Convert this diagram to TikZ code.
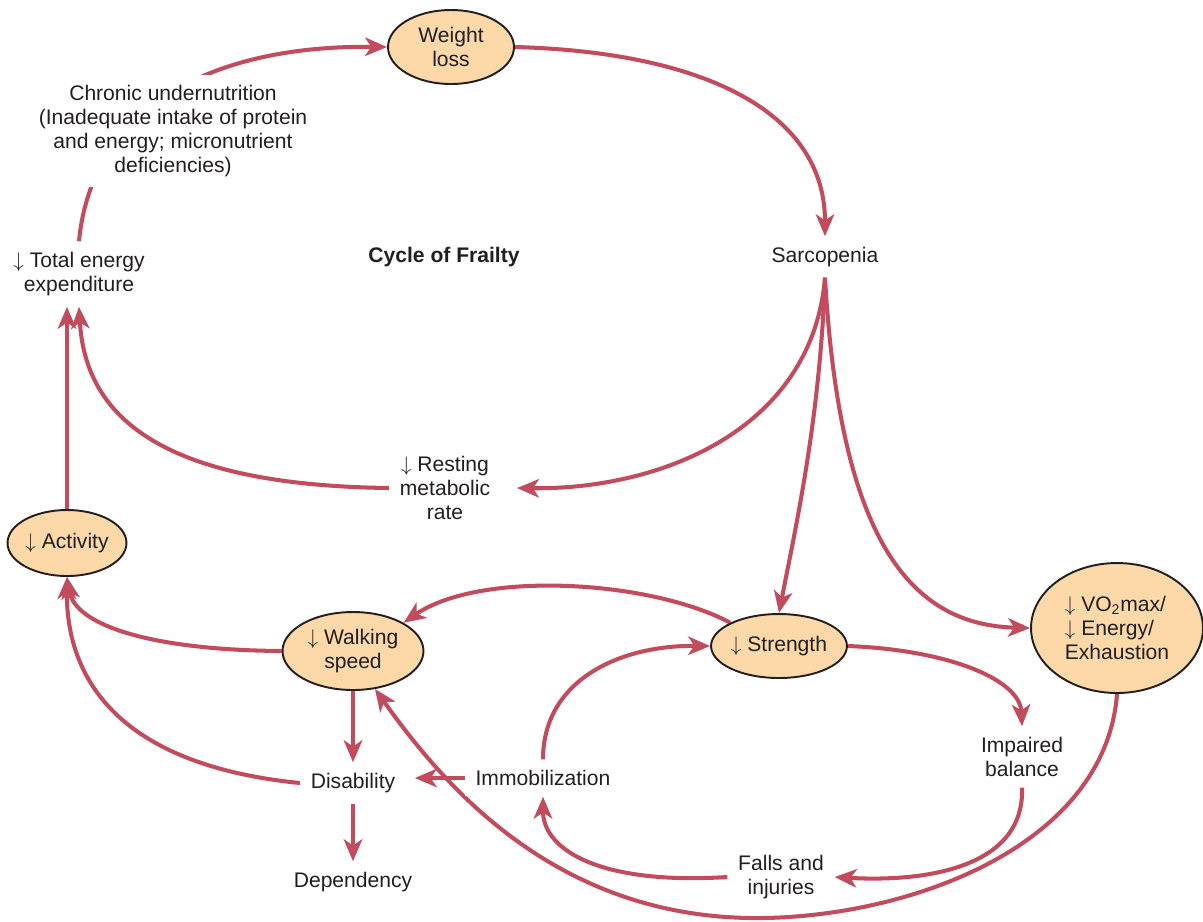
\documentclass[tikz,border=0pt]{standalone}
\usepackage{fontspec}
\setmainfont{Liberation Sans}
\usepackage{tikz}
\usetikzlibrary{arrows.meta,calc,positioning,shapes.geometric,backgrounds}
\definecolor{frailink}{HTML}{231F20}
\definecolor{frailred}{HTML}{C24B5D}
\definecolor{frailfill}{HTML}{FDD9A9}
\begin{document}
\begin{tikzpicture}[x=0.02cm,y=-0.02cm,>={Stealth[length=12.5pt,width=10.5pt,inset=3.5pt]},
  font=\fontsize{12}{13.7}\selectfont,text=frailink,
  cyc/.style={ellipse,draw=frailink,line width=1.1pt,fill=frailfill,inner sep=0pt,align=center},
  lbl/.style={fill=white,inner sep=6pt,align=center},
  link/.style={->,draw=frailred,line width=2.3pt}]
\path[use as bounding box] (0,0) rectangle (1203,921);
% ellipses
\node[cyc,minimum width=2.52cm,minimum height=1.48cm] (wl) at (451,47) {Weight\\loss};
\node[cyc,minimum width=2.38cm,minimum height=1.32cm] (act) at (67,543) {$\downarrow$ Activity};
\node[cyc,minimum width=2.82cm,minimum height=1.56cm] (ws) at (353,651) {$\downarrow$ Walking\\speed};
\node[cyc,minimum width=2.54cm,minimum height=1.28cm] (str) at (779,646) {$\downarrow$ Strength};
\node[cyc,align=left,minimum width=3.44cm,minimum height=2.6cm] (vo) at (1117,628)
  {$\downarrow$ VO\textsubscript{2}max/\\$\downarrow$ Energy/\\Exhaustion};
% plain labels
\node[lbl] (cun) at (173,131) {Chronic undernutrition\\(Inadequate intake of protein\\and energy; micronutrient\\deficiencies)};
\node[lbl] (tee) at (79,274) {$\downarrow$ Total energy\\expenditure};
\node[lbl,font=\fontsize{12}{13.7}\selectfont\bfseries] (ttl) at (444,257) {Cycle of Frailty};
\node[lbl] (sarc) at (825,257) {Sarcopenia};
\node[lbl] (rmr) at (445,488) {$\downarrow$ Resting\\metabolic\\rate};
\node[lbl] (imb) at (1022,757) {Impaired\\balance};
\node[lbl] (fal) at (781,877) {Falls and\\injuries};
\node[lbl] (imm) at (543,778) {Immobilization};
\node[lbl] (dis) at (353,783) {Disability};
\node[lbl] (dep) at (353,882) {Dependency};
% connectors
\begin{scope}[on background layer]
\fill[white] (0,0) rectangle (1203,921);
\draw[link] (tee.north) .. controls (92,105) and (215,45) .. (wl.west);
\draw[link] (wl.east) .. controls (700,52) and (825,110) .. (sarc.north);
\draw[link] (sarc.south) .. controls (812,430) and (660,490) .. ($(rmr.east)+(16,0)$);
\draw[link] (sarc.south) .. controls (820,420) and (795,530) .. (str.north);
\draw[link] (sarc.south) .. controls (840,540) and (910,625) .. (vo.west);
\draw[link] (rmr.west) .. controls (150,485) and (85,410) .. (tee.south);
\draw[link] (act.north) -- (act.north |- tee.south);
\draw[link] (ws.west) .. controls (150,650) and (75,625) .. (act.south);
\draw[link] (dis.west) .. controls (120,765) and (66,680) .. (act.south);
\draw[link] (str.north west) .. controls (650,580) and (480,570) .. (ws.north east);
\draw[link] (ws.south) -- (dis.north);
\draw[link] (dis.south) -- (dep.north);
\draw[link,shorten >=5pt] (imm.west) -- (dis.east |- imm.west);
\draw[link] (imm.north) .. controls (543,680) and (620,645) .. (str.west);
\draw[link] (str.east) .. controls (950,650) and (1020,680) .. (imb.north);
\draw[link] (imb.south) .. controls (1025,870) and (920,882) .. (fal.east);
\draw[link] (fal.west) .. controls (600,885) and (543,850) .. (imm.south);
\draw[link] (vo.south) .. controls (1105,850) and (900,920) .. (750,918)
  .. controls (550,915) and (440,780) .. (ws.-60);
\end{scope}
\end{tikzpicture}
\end{document}
